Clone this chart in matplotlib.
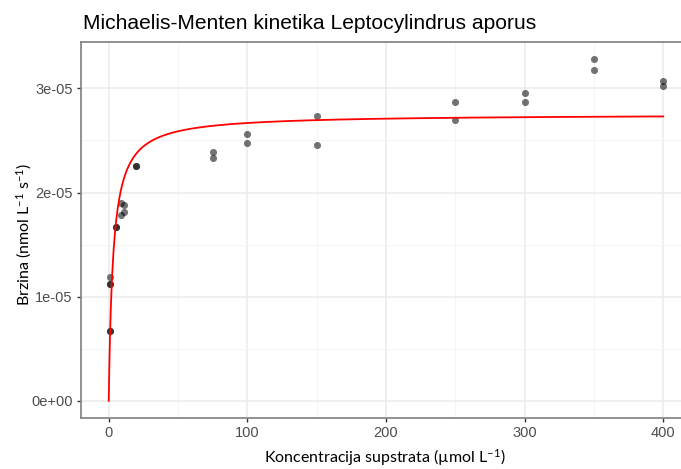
import numpy as np
import matplotlib
matplotlib.use("Agg")
import matplotlib.pyplot as plt

konc = [1, 1, 1, 1, 1, 5, 5, 8.5, 8.5, 11, 11, 20, 20,
        75, 75, 100, 100, 150, 150, 250, 250, 300, 300, 350, 350, 400, 400]
brzina = [6.73e-06, 6.73e-06, 1.12e-05, 1.12e-05, 1.19e-05, 1.667e-05, 1.667e-05,
          1.90e-05, 1.78e-05, 1.88e-05, 1.81e-05, 2.25e-05, 2.25e-05,
          2.39e-05, 2.33e-05, 2.56e-05, 2.48e-05, 2.73e-05, 2.46e-05,
          2.87e-05, 2.70e-05, 2.96e-05, 2.87e-05, 3.28e-05, 3.18e-05,
          3.07e-05, 3.02e-05]

# fitted Michaelis-Menten parameters
vmax = 2.752e-05
km = 3.17

s = np.linspace(0, 400, 800)
v = vmax * s / (km + s)

plt.rcParams["mathtext.fontset"] = "custom"
plt.rcParams["mathtext.rm"] = "Lato"

W, H = 681, 469
fig = plt.figure(figsize=(W / 100, H / 100), dpi=100)
ax = fig.add_axes([81 / W, (H - 418) / H, (691 - 81) / W, (418 - 42) / H])

ax.scatter(konc, brzina, s=26, color="black", alpha=0.55, linewidths=0, zorder=3)
ax.plot(s, v, color="#FF0000", lw=1.3, zorder=4)

ax.set_xlim(-20, 420)
ax.set_ylim(-1.65e-06, 3.445e-05)
ax.set_xticks([0, 100, 200, 300, 400])
ax.set_xticks([50, 150, 250, 350], minor=True)
ax.set_yticks([0, 1e-05, 2e-05, 3e-05])
ax.set_yticklabels(["0e+00", "1e-05", "2e-05", "3e-05"])
ax.set_yticks([5e-06, 1.5e-05, 2.5e-05], minor=True)

ax.grid(which="major", color="#EBEBEB", lw=1.1)
ax.grid(which="minor", color="#F2F2F2", lw=0.6)
ax.set_axisbelow(True)
for sp in ax.spines.values():
    sp.set_color("#7F7F7F")
    sp.set_linewidth(1.2)
ax.tick_params(which="major", length=3, width=1, color="#333333",
               labelsize=10.5, labelcolor="#4D4D4D", pad=3)
ax.tick_params(which="minor", length=0)
for lab in ax.get_xticklabels() + ax.get_yticklabels():
    lab.set_fontfamily("Liberation Sans")

fig.text(385 / W, 1 - 458 / H, r"Koncentracija supstrata (µmol L$\mathregular{^{-1}}$)",
         fontfamily="Lato", fontsize=11.5, ha="center", va="center")
fig.text(24 / W, 1 - 234 / H, r"Brzina (nmol L$\mathregular{^{-1}}$ s$\mathregular{^{-1}}$)",
         fontfamily="Lato", fontsize=11.5, ha="center", va="center", rotation=90)

fig.text(83 / W, 1 - 29 / H, "Michaelis-Menten kinetika Leptocylindrus aporus",
         fontsize=15.1, fontfamily="Liberation Sans", color="black", va="baseline")

fig.savefig("out.png", dpi=100)
